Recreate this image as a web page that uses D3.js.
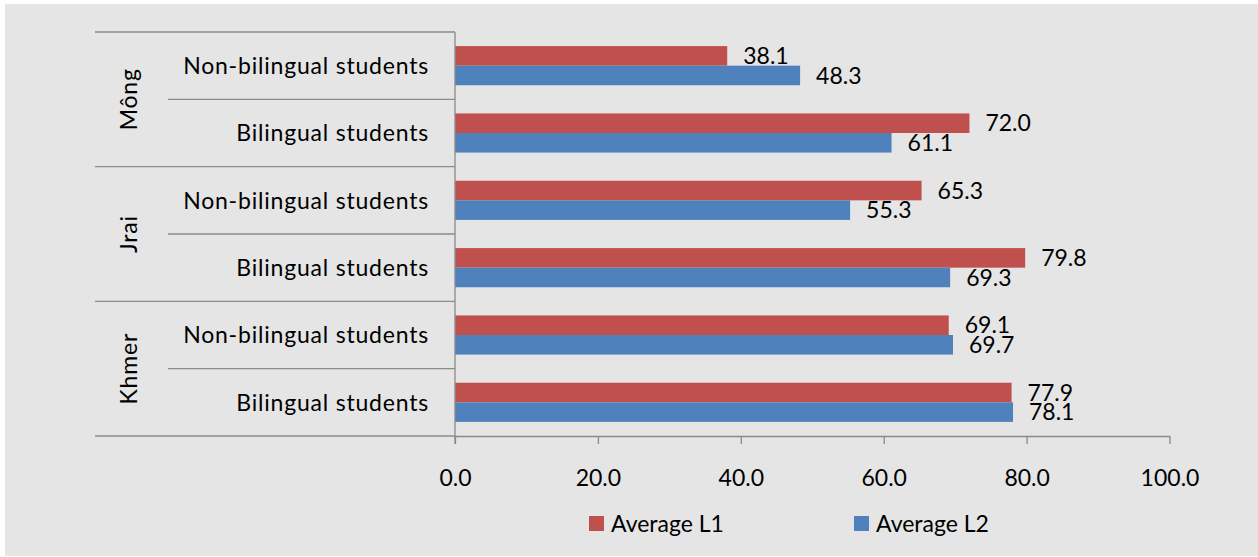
<!DOCTYPE html>
<html>
<head>
<meta charset="utf-8">
<script src="https://cdn.jsdelivr.net/npm/d3@7"></script>
<style>
  html, body { margin: 0; padding: 0; background: #ffffff; }
  svg { display: block; font-family: Lato, "Open Sans", sans-serif; }
</style>
</head>
<body>
<svg id="chart" width="1258" height="557"></svg>
<script>
// Ethnic groups and the two student types within each group (top to bottom)
const groups = ["Mông", "Jrai", "Khmer"];
const studentTypes = ["Non-bilingual students", "Bilingual students"];

// Average scores per row, in the same top-to-bottom order
const averageL1 = [38.1, 72.0, 65.3, 79.8, 69.1, 77.9];
const averageL2 = [48.3, 61.1, 55.3, 69.3, 69.7, 78.1];

const seriesNames = ["Average L1", "Average L2"];
const seriesColors = ["#c0504d", "#4f81bd"];
const xTicks = [0, 20, 40, 60, 80, 100];

const rows = [];
groups.forEach((g, gi) => {
  studentTypes.forEach((t, ti) => {
    const i = gi * studentTypes.length + ti;
    rows.push({ id: i, group: g, type: t, values: [averageL1[i], averageL2[i]] });
  });
});

const svg = d3.select("#chart");
const W = 1258, H = 557;

// background panel
svg.append("rect").attr("x", 5).attr("y", 4).attr("width", W - 5).attr("height", 552)
  .attr("fill", "#e5e5e5");

const plot = { left: 455, right: 1169.5, top: 32, bottom: 436 };
const fontSize = 23;
const lineColor = "#8a8a8a";

const x = d3.scaleLinear().domain([0, 100]).range([plot.left, plot.right]);
const y = d3.scaleBand().domain(rows.map(r => r.id)).range([plot.top, plot.bottom]);
const inner = d3.scaleBand().domain([0, 1])
  .range([0, y.bandwidth()]).paddingOuter(0.72).paddingInner(0);

// bars
const rowG = svg.append("g").selectAll("g").data(rows).join("g")
  .attr("transform", d => `translate(0,${y(d.id)})`);

rowG.selectAll("rect").data(d => d.values.map((v, s) => ({ v, s }))).join("rect")
  .attr("x", x(0))
  .attr("y", d => inner(d.s))
  .attr("width", d => x(d.v) - x(0))
  .attr("height", inner.bandwidth())
  .attr("fill", d => seriesColors[d.s]);

// value labels
rowG.selectAll("text.val").data(d => d.values.map((v, s) => ({ v, s }))).join("text")
  .attr("class", "val")
  .attr("x", d => x(d.v) + 16)
  .attr("y", d => inner(d.s) + inner.bandwidth() / 2)
  .attr("dy", "0.36em")
  .attr("font-size", fontSize)
  .attr("fill", "#000")
  .text(d => d3.format(".1f")(d.v));

// x axis
const xAxis = svg.append("g").attr("transform", `translate(0,${plot.bottom})`)
  .call(d3.axisBottom(x).tickValues(xTicks).tickFormat(d3.format(".1f"))
    .tickSize(8).tickSizeOuter(0).tickPadding(26));
xAxis.select(".domain").attr("stroke", lineColor).attr("stroke-width", 1.3);
xAxis.selectAll(".tick line").attr("stroke", lineColor).attr("stroke-width", 1.3);
xAxis.selectAll(".tick text").attr("font-size", fontSize).attr("font-family", "Lato, sans-serif")
  .attr("fill", "#000");

// vertical category axis line
const lines = svg.append("g").attr("stroke", lineColor).attr("stroke-width", 1.3);
lines.append("line").attr("x1", plot.left).attr("x2", plot.left)
  .attr("y1", plot.top).attr("y2", plot.bottom + 8);

// separators between student types (inner) and between groups (outer)
rows.forEach((r, i) => {
  const yy = y(r.id);
  const isGroupStart = i % studentTypes.length === 0;
  lines.append("line").attr("x1", isGroupStart ? 95 : 168).attr("x2", plot.left)
    .attr("y1", yy).attr("y2", yy);
});
lines.append("line").attr("x1", 95).attr("x2", plot.left)
  .attr("y1", plot.bottom).attr("y2", plot.bottom);

// student-type labels
svg.append("g").selectAll("text").data(rows).join("text")
  .attr("x", 429)
  .attr("y", d => y(d.id) + y.bandwidth() / 2)
  .attr("dy", "0.36em")
  .attr("text-anchor", "end")
  .attr("font-size", fontSize)
  .attr("letter-spacing", 0.8)
  .attr("fill", "#000")
  .text(d => d.type);

// group labels, rotated
const groupBand = y.bandwidth() * studentTypes.length;
svg.append("g").selectAll("text").data(groups).join("text")
  .attr("transform", (d, i) => `translate(128.5,${plot.top + groupBand * (i + 0.5)}) rotate(-90)`)
  .attr("dy", "0.36em")
  .attr("text-anchor", "middle")
  .attr("font-size", fontSize)
  .attr("letter-spacing", 0.8)
  .attr("fill", "#000")
  .text(d => d);

// legend
const legendX = [589, 854];
const legend = svg.append("g").selectAll("g").data(seriesNames).join("g")
  .attr("transform", (d, i) => `translate(${legendX[i]},516)`);
legend.append("rect").attr("width", 15).attr("height", 15)
  .attr("fill", (d, i) => seriesColors[i]);
legend.append("text").attr("x", 22).attr("y", 16)
  .attr("font-size", fontSize).attr("fill", "#000").text(d => d);
</script>
</body>
</html>
